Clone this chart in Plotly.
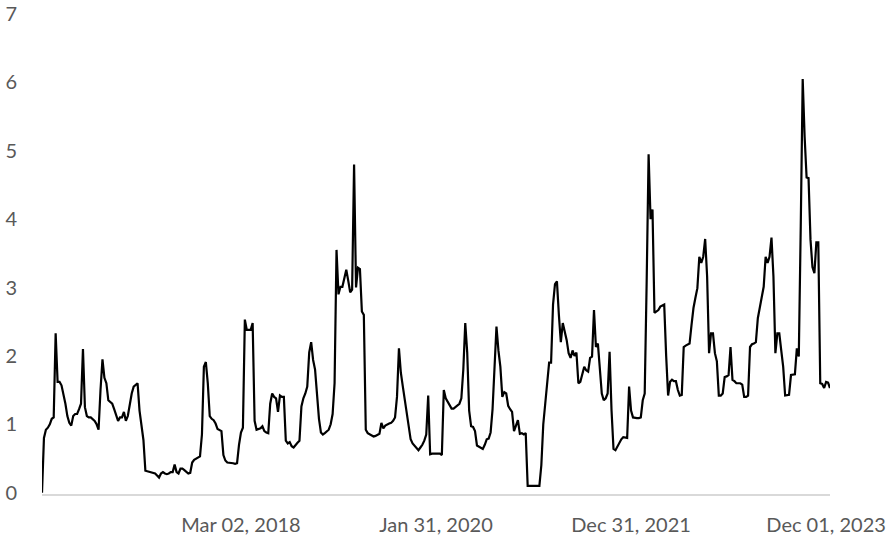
import pandas as pd
import plotly.graph_objects as go

# Weekly series, one list per calendar year (first week: 2016-03-18)
values_2016 = [0, 0.8, 0.92, 0.95, 1.0, 1.08, 1.1, 2.33, 1.62, 1.62,
               1.57, 1.45, 1.3, 1.12, 1.02, 0.98, 1.12, 1.15, 1.15, 1.22,
               1.3, 2.1, 1.25, 1.12, 1.1, 1.1, 1.07, 1.05, 1.0, 0.92,
               1.5, 1.95, 1.68, 1.6, 1.35, 1.32, 1.3, 1.22, 1.12, 1.05,
               1.1, 1.1]
values_2017 = [1.18, 1.05, 1.12, 1.3, 1.45, 1.55, 1.58, 1.6, 1.2, 0.95,
               0.77, 0.32, 0.31, 0.3, 0.3, 0.29, 0.28, 0.25, 0.22, 0.28,
               0.3, 0.28, 0.27, 0.28, 0.3, 0.3, 0.41, 0.3, 0.28, 0.35,
               0.35, 0.33, 0.3, 0.28, 0.29, 0.44, 0.48, 0.5, 0.52, 0.53,
               0.85, 1.84, 1.91, 1.6, 1.12, 1.08, 1.06, 1.01, 0.93, 0.91,
               0.9, 0.55]
values_2018 = [0.47, 0.44, 0.44, 0.43, 0.43, 0.42, 0.43, 0.7, 0.88, 0.95,
               2.53, 2.38, 2.38, 2.38, 2.48, 1.05, 0.92, 0.93, 0.94, 0.97,
               0.9, 0.88, 0.87, 1.3, 1.45, 1.4, 1.38, 1.18, 1.42, 1.4,
               1.4, 0.76, 0.72, 0.74, 0.68, 0.66, 0.7, 0.73, 0.76, 1.26,
               1.38, 1.45, 1.55, 2.05, 2.2, 1.94, 1.8, 1.45, 1.08, 0.88,
               0.85, 0.87]
values_2019 = [0.89, 0.92, 1.0, 1.15, 1.6, 3.55, 2.9, 3.01, 3.01, 3.15,
               3.26, 3.1, 2.93, 2.97, 4.8, 3.0, 3.29, 3.27, 2.65, 2.6,
               0.92, 0.87, 0.85, 0.83, 0.82, 0.83, 0.84, 0.86, 1.02, 0.94,
               0.98, 1.0, 1.01, 1.02, 1.05, 1.1, 1.4, 2.11, 1.75, 1.55,
               1.35, 1.22, 1.0, 0.78, 0.72, 0.69, 0.65, 0.62, 0.66, 0.7,
               0.76, 0.85]
values_2020 = [1.42, 0.56, 0.57, 0.57, 0.58, 0.57, 0.57, 0.55, 1.5, 1.38,
               1.33, 1.28, 1.23, 1.23, 1.25, 1.28, 1.3, 1.38, 1.8, 2.48,
               2.05, 1.2, 0.97, 0.96, 0.9, 0.69, 0.67, 0.66, 0.64, 0.7,
               0.78, 0.79, 0.88, 1.22, 1.89, 2.43, 2.08, 1.84, 1.4, 1.47,
               1.45, 1.27, 1.22, 1.18, 0.9, 0.98, 1.06, 0.86, 0.87, 0.85,
               0.87, 0.1]
values_2021 = [0.1, 0.1, 0.1, 0.1, 0.1, 0.1, 0.4, 1.0, 1.3, 1.65,
               1.9, 1.9, 2.75, 3.05, 3.09, 2.6, 2.2, 2.48, 2.35, 2.23,
               2.04, 1.97, 2.08, 2.0, 2.05, 1.6, 1.62, 1.72, 1.84, 1.79,
               1.77, 1.97, 1.99, 2.67, 2.13, 2.18, 1.75, 1.45, 1.35, 1.38,
               1.45, 2.06, 1.2, 0.64, 0.62, 0.68, 0.74, 0.78, 0.81, 0.8,
               0.8, 1.55, 1.2]
values_2022 = [1.1, 1.09, 1.09, 1.09, 1.1, 1.35, 1.45, 3.07, 4.95, 4.0,
               4.14, 2.63, 2.65, 2.67, 2.72, 2.74, 2.75, 2.0, 1.42, 1.62,
               1.65, 1.63, 1.63, 1.5, 1.42, 1.43, 2.13, 2.15, 2.16, 2.18,
               2.45, 2.7, 2.85, 2.99, 3.45, 3.36, 3.45, 3.71, 3.16, 2.04,
               2.33, 2.33, 2.04, 1.92, 1.42, 1.42, 1.45, 1.69, 1.7, 1.72,
               2.13, 1.65]
values_2023 = [1.63, 1.6, 1.6, 1.6, 1.58, 1.4, 1.4, 1.42, 2.13, 2.17,
               2.18, 2.2, 2.55, 2.72, 2.9, 3.01, 3.45, 3.36, 3.45, 3.73,
               3.16, 2.04, 2.33, 2.33, 2.08, 1.84, 1.42, 1.42, 1.43, 1.72,
               1.72, 1.73, 2.11, 1.99, 3.89, 6.05, 5.2, 4.61, 4.6, 3.7,
               3.3, 3.21, 3.66, 3.66, 1.6, 1.59, 1.53, 1.62, 1.61, 1.53]

values = (values_2016 + values_2017 + values_2018 + values_2019
          + values_2020 + values_2021 + values_2022 + values_2023)
dates = pd.date_range(start="2016-03-18", periods=len(values), freq="7D")

x_tick_dates = ["2018-03-02", "2020-01-31", "2021-12-31", "2023-12-01"]
y_ticks = [0, 1, 2, 3, 4, 5, 6, 7]

font_family = "Lato"
text_gray = "#595959"

fig = go.Figure(
    go.Scatter(
        x=dates,
        y=values,
        mode="lines",
        line=dict(color="#000000", width=2.2),
        hoverinfo="x+y",
    )
)

fig.update_layout(
    width=893,
    height=540,
    margin=dict(l=42, r=63, t=14, b=46, autoexpand=False),
    paper_bgcolor="white",
    plot_bgcolor="white",
    showlegend=False,
    font=dict(family=font_family, size=20, color=text_gray),
)

fig.update_xaxes(
    type="date",
    range=[dates[0], dates[-1]],
    tickvals=x_tick_dates,
    tickformat="%b %d, %Y",
    showgrid=False,
    zeroline=False,
    showline=True,
    linecolor="#d9d9d9",
    linewidth=2,
    ticks="",
    automargin=False,
    ticklabelstandoff=12,
    tickfont=dict(family=font_family, size=20, color=text_gray),
)

fig.update_yaxes(
    range=[-0.02, 7],
    tickvals=y_ticks,
    showgrid=False,
    zeroline=False,
    showline=False,
    ticks="",
    automargin=False,
    ticklabelstandoff=24,
    tickfont=dict(family=font_family, size=20, color=text_gray),
)

fig.write_html("out.html")
